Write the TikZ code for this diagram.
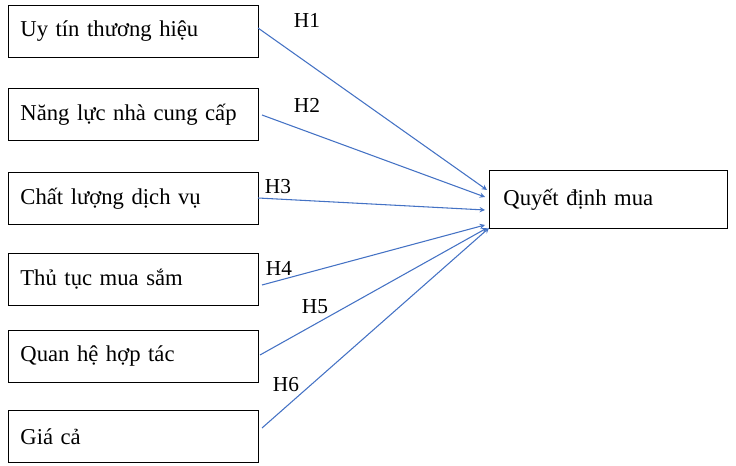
\documentclass[tikz,border=0pt]{standalone}
\usepackage{fontspec}
\setmainfont{Liberation Serif}
\begin{document}
\begin{tikzpicture}[x=0.75pt,y=-0.75pt,
  box/.style={draw=black,line width=0.6pt,minimum width=250*0.75pt,minimum height=52*0.75pt,anchor=north west,inner sep=0pt,font=\fontsize{17}{19}\selectfont,text width=226*0.75pt,align=left},
  arr/.style={draw={rgb,255:red,68;green,114;blue,196},line width=0.8pt,-stealth},
  lab/.style={font=\fontsize{16}{18}\selectfont,inner sep=0pt}]
\useasboundingbox (0,0) rectangle (736,466);
\node[box] (b1) at (8,5) {Uy tín thương hiệu};
\node[box] (b2) at (8,88) {Năng lực nhà cung cấp};
\node[box] (b3) at (8,172) {Chất lượng dịch vụ};
\node[box] (b4) at (8,253) {Thủ tục mua sắm};
\node[box] (b5) at (8,330) {Quan hệ hợp tác};
\node[box] (b6) at (8,410) {Giá cả};
\node[box,minimum width=238*0.75pt,minimum height=58*0.75pt,text width=210*0.75pt] (q) at (489,170) {Quyết định mua};
\coordinate (s1) at (258,28); \coordinate (s2) at (262,115);
\coordinate (s3) at (258,198); \coordinate (s4) at (262,285);
\coordinate (s5) at (260,355); \coordinate (s6) at (262,428);
\coordinate (t1) at (487,190); \coordinate (t2) at (485,197);
\coordinate (t3) at (485,210); \coordinate (t4) at (485,225);
\coordinate (t5) at (487,228); \coordinate (t6) at (489,228);
\foreach \i in {1,...,6} \draw[arr] (s\i) -- (t\i);
\node[lab] (h1) at (307,20) {H1};
\node[lab] (h2) at (307,105) {H2};
\node[lab] (h3) at (278,187) {H3};
\node[lab] (h4) at (279,268) {H4};
\node[lab] (h5) at (315,307) {H5};
\node[lab] (h6) at (286,385) {H6};
\end{tikzpicture}
\end{document}
